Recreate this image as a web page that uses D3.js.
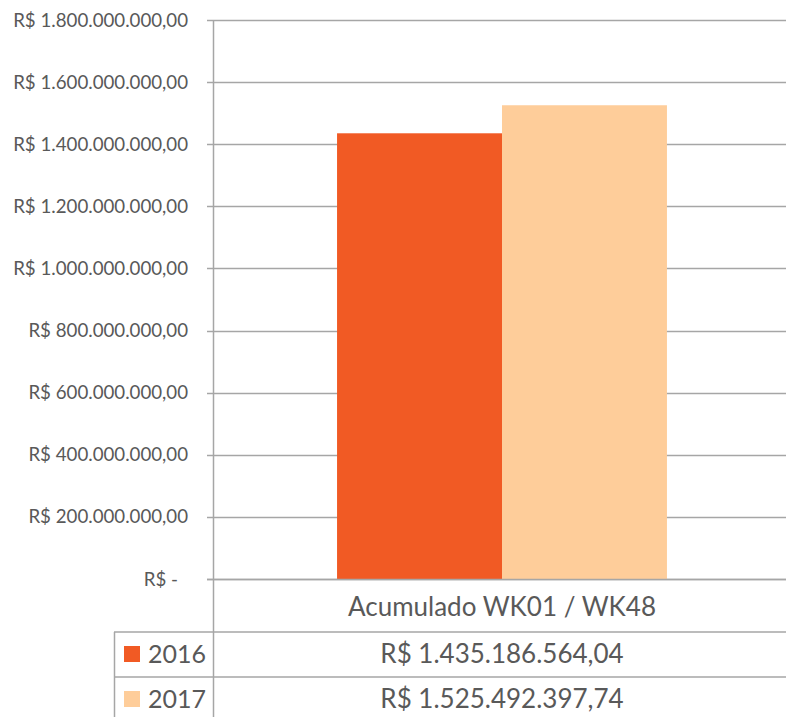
<!DOCTYPE html>
<html>
<head>
<meta charset="utf-8">
<script src="https://cdn.jsdelivr.net/npm/d3@7"></script>
<style>
  body { margin:0; background:#fff; }
  svg text { font-family: Lato, "Open Sans", sans-serif; fill:#595959; }
</style>
</head>
<body>
<div id="plot"></div>
<script>
// data
var category = 'Acumulado WK01 / WK48';
var years = ['2016', '2017'];
var values = [1435186564.04, 1525492397.74];
var valueLabels = ['R$ 1.435.186.564,04', 'R$ 1.525.492.397,74'];
var tickValues = [0, 200e6, 400e6, 600e6, 800e6, 1000e6, 1200e6, 1400e6, 1600e6, 1800e6];
var colors = ['#F15A24', '#FECD9A'];

var W = 786, H = 717;
var pL = 213, pT = 20, pB = 579, pR = 791;
var lineCol = '#A6A6A6';

var svg = d3.select('#plot').append('svg')
  .attr('width', W).attr('height', H);

var y = d3.scaleLinear().domain([0, 1800e6]).range([pB, pT]);
var x0 = d3.scaleBand().domain([category]).range([pL, pR]).paddingInner(0).paddingOuter(0.376);
var x1 = d3.scaleBand().domain(years).range([0, x0.bandwidth()]);

function brl(v) {
  if (v === 0) return 'R$ -';
  var s = d3.format(',.2f')(v); // 1,800,000,000.00
  s = s.replace(/,/g, '#').replace('.', ',').replace(/#/g, '.');
  return 'R$ ' + s;
}

// gridlines
svg.append('g').selectAll('line').data(tickValues).join('line')
  .attr('x1', pL - 6).attr('x2', W)
  .attr('y1', function(d){ return Math.round(y(d)) + 0.5; })
  .attr('y2', function(d){ return Math.round(y(d)) + 0.5; })
  .attr('stroke', lineCol).attr('stroke-width', 1.5);

// tick labels
svg.append('g').selectAll('text').data(tickValues).join('text')
  .attr('x', function(d){ return d === 0 ? 178 : 188; })
  .attr('y', function(d){ return y(d); })
  .attr('dy', '0.35em')
  .attr('text-anchor', 'end')
  .style('font-size', '18.7px')
  .text(brl);

// bars
svg.append('g').selectAll('rect').data(values).join('rect')
  .attr('x', function(d, i){ return x0(category) + x1(years[i]); })
  .attr('width', x1.bandwidth())
  .attr('y', function(d){ return y(d); })
  .attr('height', function(d){ return y(0) - y(d); })
  .attr('fill', function(d, i){ return colors[i]; });

// axis line (zero) redraw over bars
svg.append('line')
  .attr('x1', pL - 6).attr('x2', W)
  .attr('y1', Math.round(y(0)) + 0.5).attr('y2', Math.round(y(0)) + 0.5)
  .attr('stroke', lineCol).attr('stroke-width', 1.5);

// vertical axis
svg.append('line')
  .attr('x1', pL + 0.5).attr('x2', pL + 0.5)
  .attr('y1', pT).attr('y2', H)
  .attr('stroke', lineCol).attr('stroke-width', 1.5);

var cx = x0(category) + x0.bandwidth() / 2;

// data table
var rowTops = [632, 677];
svg.append('text')
  .attr('x', cx).attr('y', 607).attr('dy', '0.35em')
  .attr('text-anchor', 'middle')
  .style('font-size', '26px')
  .text(category);

svg.append('g').selectAll('line').data(rowTops).join('line')
  .attr('x1', 114).attr('x2', W)
  .attr('y1', function(d){ return d; }).attr('y2', function(d){ return d; })
  .attr('stroke', lineCol).attr('stroke-width', 1.5);

svg.append('line')
  .attr('x1', 114.5).attr('x2', 114.5)
  .attr('y1', 632).attr('y2', H)
  .attr('stroke', lineCol).attr('stroke-width', 1.5);

var rows = svg.append('g').selectAll('g').data(years).join('g')
  .attr('transform', function(d, i){ return 'translate(0,' + (rowTops[i] + 22) + ')'; });

rows.append('rect')
  .attr('x', 124).attr('y', -8).attr('width', 16).attr('height', 16)
  .attr('fill', function(d, i){ return colors[i]; });

rows.append('text')
  .attr('x', 148).attr('dy', '0.35em')
  .style('font-size', '25px')
  .text(function(d){ return d; });

rows.append('text')
  .attr('x', cx).attr('dy', '0.35em')
  .attr('text-anchor', 'middle')
  .style('font-size', '26px')
  .text(function(d, i){ return valueLabels[i]; });
</script>
</body>
</html>
